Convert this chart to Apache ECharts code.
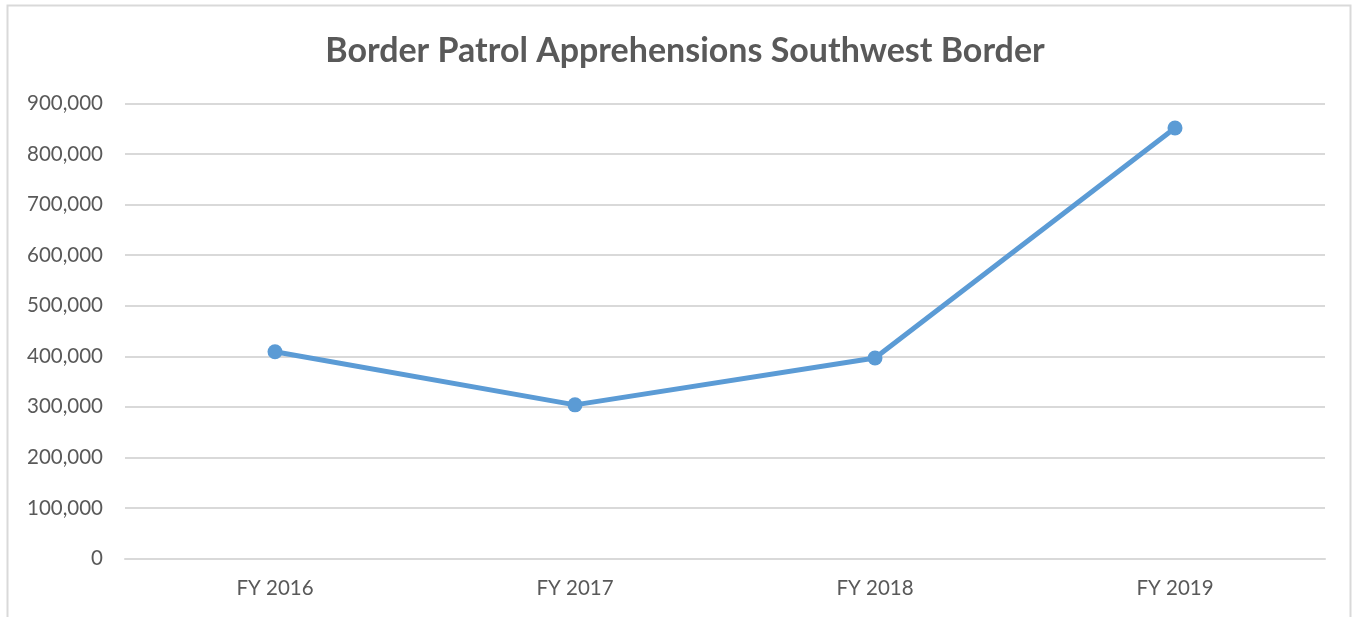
<!DOCTYPE html>
<html>
<head>
<meta charset="utf-8">
<script src="https://cdn.jsdelivr.net/npm/echarts@6/dist/echarts.min.js"></script>
<style>
html,body{margin:0;padding:0;background:#fff;}
#chart{width:1354px;height:617px;}
</style>
</head>
<body>
<div id="chart"></div>
<script>
var categories = ['FY 2016', 'FY 2017', 'FY 2018', 'FY 2019'];
var apprehensions = [408870, 303916, 396579, 851508];
var titleText = 'Border Patrol Apprehensions Southwest Border';

var chart = echarts.init(document.getElementById('chart'));
var font = 'Lato, "Open Sans", sans-serif';
chart.setOption({
  animation: false,
  backgroundColor: '#ffffff',
  graphic: [{
    type: 'rect',
    shape: {x: 7.5, y: 5.5, width: 1343, height: 640},
    style: {fill: 'none', stroke: '#d9d9d9', lineWidth: 2},
    silent: true
  }],
  title: {
    text: titleText,
    left: 680,
    textAlign: 'center',
    top: 29,
    textStyle: {fontFamily: font, fontSize: 34, fontWeight: 'bold', color: '#595959'}
  },
  grid: {left: 125, right: 29, top: 103.5, bottom: 58.5, containLabel: false},
  xAxis: {
    type: 'category',
    data: categories,
    boundaryGap: true,
    axisLine: {show: true, lineStyle: {color: '#d9d9d9', width: 2}},
    axisTick: {show: false},
    axisLabel: {fontFamily: font, fontSize: 20.5, color: '#595959', margin: 19}
  },
  yAxis: {
    type: 'value',
    min: 0,
    max: 900000,
    interval: 100000,
    axisLine: {show: false},
    axisTick: {show: false},
    splitLine: {lineStyle: {color: '#d9d9d9', width: 2}},
    axisLabel: {
      fontFamily: font, fontSize: 20.5, color: '#595959', margin: 22,
      formatter: function (v) { return v.toLocaleString('en-US'); }
    }
  },
  series: [{
    type: 'line',
    data: apprehensions,
    symbol: 'circle',
    symbolSize: 15,
    lineStyle: {color: '#5b9bd5', width: 5},
    itemStyle: {color: '#5b9bd5'}
  }]
});
</script>
</body>
</html>
